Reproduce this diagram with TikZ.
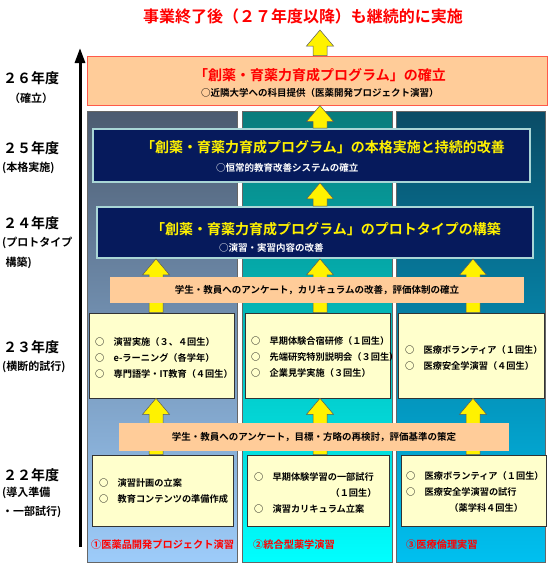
\documentclass[tikz,border=0pt]{standalone}
\usepackage{fontspec}
\setmainfont{Noto Sans CJK JP}[BoldFont={Noto Sans CJK JP Bold}]
\usetikzlibrary{calc}
\usetikzlibrary{arrows.meta}
\definecolor{peach}{HTML}{FFCC99}
\definecolor{edgered}{HTML}{FF5A4A}
\definecolor{navy}{HTML}{061A5C}
\definecolor{navyedge}{HTML}{A9D6D6}
\definecolor{paleyellow}{HTML}{FFFFCC}
\definecolor{slatetop}{HTML}{4C5B70}
\definecolor{slatebot}{HTML}{9DCCFA}
\definecolor{tealtop}{HTML}{087C7C}
\definecolor{tealbot}{HTML}{00FFFF}
\definecolor{bluetop}{HTML}{0A4C66}
\definecolor{bluebot}{HTML}{00C0F0}

% yellow block arrow from #1 (base) to #2 (tip)
\newcommand{\yarr}[2]{%
  \draw[yar] ($(#1)+(-7,0)$) -- ($(#2)+(-7,16)$) -- ($(#2)+(-13.5,16)$) -- (#2)
    -- ($(#2)+(13.5,16)$) -- ($(#2)+(7,16)$) -- ($(#1)+(7,0)$) -- cycle;}

\begin{document}
\begin{tikzpicture}[x=1pt,y=-1pt,
  panel/.style={draw=black!60,line width=0.6pt,minimum width=150pt,minimum height=451pt,inner sep=0pt},
  obox/.style={draw=edgered,fill=peach,line width=1pt,inner sep=0pt},
  nbox/.style={draw=navyedge,fill=navy,line width=1.8pt,inner sep=0pt},
  band/.style={fill=peach,inner sep=0pt},
  ybox/.style={draw=black!80,fill=paleyellow,line width=0.6pt,inner sep=0pt},
  yar/.style={fill=yellow,draw=black!65,line width=0.5pt},
  big/.style={font=\bfseries\fontsize{14}{14}\selectfont,inner sep=0pt},
  small/.style={font=\bfseries\fontsize{9.5}{12}\selectfont,inner sep=0pt},
  item/.style={font=\bfseries\fontsize{9.2}{16}\selectfont,align=left,anchor=west,inner sep=0pt},
  year/.style={font=\bfseries\fontsize{14}{14}\selectfont,anchor=west,inner sep=0pt},
  yearsub/.style={font=\bfseries\fontsize{11}{19.5}\selectfont,align=left,anchor=west,inner sep=0pt},
  prog/.style={font=\bfseries\fontsize{10.2}{10}\selectfont,text=red,anchor=west,inner sep=0pt}]

        \useasboundingbox (0,0) rectangle (551,563);

        % the three programmes
        \node[panel,top color=slatetop,bottom color=slatebot] (p1) at (162,336.5) {};
        \node[panel,top color=tealtop,bottom color=tealbot] (p2) at (317,336.5) {};
        \node[panel,top color=bluetop,bottom color=bluebot,minimum width=149pt] (p3) at (470.5,336.5) {};

        % time axis
        \coordinate (tl0) at (80,547);
        \coordinate (tl1) at (80,48);
        \draw[-{Triangle[width=10pt,length=15pt]},line width=3pt] (tl0) -- (tl1);

        \node[font=\bfseries\fontsize{16}{16}\selectfont,text=red,inner sep=0pt] (title) at (303,16) {事業終了後（２７年度以降）も継続的に実施};

        \node[obox,minimum width=460pt,minimum height=49pt] (o26) at (317,80.5) {};
        \node[nbox,minimum width=437pt,minimum height=53pt] (n25) at (311.5,155.5) {};
        \node[nbox,minimum width=436pt,minimum height=51pt] (n24) at (315,232.5) {};

        \node[ybox,minimum width=145pt,minimum height=85pt] (y23a) at (161.5,355.5) {};
        \node[ybox,minimum width=145pt,minimum height=85pt] (y23b) at (317.5,355.5) {};
        \node[ybox,minimum width=146pt,minimum height=85pt] (y23c) at (471,355.5) {};

        \node[ybox,minimum width=141pt,minimum height=71pt] (y22a) at (162.5,490.5) {};
        \node[ybox,minimum width=142pt,minimum height=71pt] (y22b) at (318,490.5) {};
        \node[ybox,minimum width=145pt,minimum height=71pt] (y22c) at (473.5,490.5) {};

        % arrows
        \coordinate (ax1) at (156,0);
        \coordinate (ax2) at (320,0);
        \coordinate (ax3) at (473,0);
        \coordinate (ttip) at (320,30);
        \yarr{o26.north -| ttip}{ttip}
        \yarr{ax2 |- n25.north}{ax2 |- o26.south}
        \yarr{ax2 |- n24.north}{ax2 |- n25.south}
        \yarr{ax1 |- y23a.north}{ax1 |- n24.south}
        \yarr{ax2 |- y23b.north}{ax2 |- n24.south}
        \yarr{ax3 |- y23c.north}{ax3 |- n24.south}
        \yarr{ax1 |- y22a.north}{ax1 |- y23a.south}
        \yarr{ax2 |- y22b.north}{ax2 |- y23b.south}
        \yarr{ax3 |- y22c.north}{ax3 |- y23c.south}

        \node[band,minimum width=414pt,minimum height=26pt] (b23) at (317,290) {};
        \node[band,minimum width=390pt,minimum height=28pt] (b22) at (314,437) {};

        % texts in the boxes
        \node[big,text=red] (o26t) at (320,75) {「創薬・育薬力育成プログラム」の確立};
        \node[small,anchor=west] (o26s) at (201,93) {○近隣大学への科目提供（医薬開発プロジェクト演習）};
        \node[big,text=yellow] (n25t) at (323,147) {「創薬・育薬力育成プログラム」の本格実施と持続的改善};
        \node[small,anchor=west,text=white] (n25s) at (216,168) {○恒常的教育改善システムの確立};
        \node[big,text=yellow] (n24t) at (326,229) {「創薬・育薬力育成プログラム」のプロトタイプの構築};
        \node[small,anchor=west,text=white] (n24s) at (219,248) {○演習・実習内容の改善};

        \node[small] (b23t) at (317,290) {学生・教員へのアンケート，カリキュラムの改善，評価体制の確立};
        \node[small] (b22t) at (314,437) {学生・教員へのアンケート，目標・方略の再検討，評価基準の策定};

        \node[item] (t23a) at (95,357.5) {○　演習実施（３、４回生）\\○　e-ラーニング（各学年）\\○　専門語学・IT教育（４回生）};
        \node[item] (t23b) at (251,357) {○　早期体験合宿研修（１回生）\\○　先端研究特別説明会（３回生）\\○　企業見学実施（３回生）};
        \node[item] (t23c) at (405,357.5) {○　医療ボランティア（１回生）\\○　医療安全学演習（４回生）};

        \node[item] (t22a) at (99,491) {○　演習計画の立案\\○　教育コンテンツの準備作成};
        \node[item] (t22b) at (254,492.5) {○　早期体験学習の一部試行\\\hspace*{8.3em}（１回生）\\○　演習カリキュラム立案};
        \node[item] (t22c) at (406,492) {○　医療ボランティア（１回生）\\○　医療安全学演習の試行\\\hspace*{4.7em}（薬学科４回生）};

        \node[prog] (l1) at (91,545) {①医薬品開発プロジェクト演習};
        \node[prog] (l2) at (253,545) {②統合型薬学演習};
        \node[prog] (l3) at (406,545) {③医療倫理実習};

        % years
        \node[year] (y26) at (3,78) {２６年度};
        \node[yearsub] (y26s) at (9,98) {（確立）};
        \node[year] (y25) at (3,148) {２５年度};
        \node[yearsub] (y25s) at (2,168) {(本格実施)};
        \node[year] (y24) at (3,223) {２４年度};
        \node[yearsub] (y24s) at (2,253) {(プロトタイプ\\\hspace*{0.3em}構築)};
        \node[year] (y23) at (3,347) {２３年度};
        \node[yearsub] (y23s) at (2,367) {(横断的試行)};
        \node[year] (y22) at (3,475) {２２年度};
        \node[yearsub] (y22s) at (2,502.5) {(導入準備\\・一部試行)};

\end{tikzpicture}
\end{document}
